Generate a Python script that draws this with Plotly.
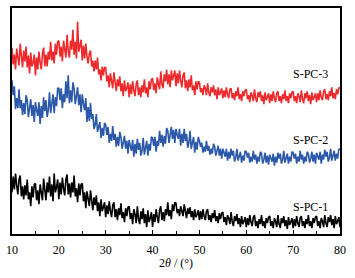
import numpy as np
import plotly.graph_objects as go

# 2θ sampling grid (degrees), 0.25° step
two_theta = np.linspace(10, 80, 281)

# intensities (a.u.), 4 values per degree
s_pc_3 = [
    188, 171, 181, 166, 187, 180, 170, 192, 175, 168, 185, 174, 189, 168, 180, 162,
    183, 169, 173, 181, 160, 178, 166, 184, 173, 166, 182, 188, 169, 181, 169, 184,
    176, 194, 175, 184, 172, 192, 181, 194, 195, 179, 189, 174, 195, 188, 178, 201,
    184, 178, 195, 186, 206, 181, 194, 177, 214, 184, 189, 196, 175, 190, 177, 192,
    179, 172, 182, 185, 169, 175, 164, 175, 166, 178, 161, 166, 155, 169, 160, 168,
    168, 154, 160, 148, 162, 156, 147, 163, 150, 144, 156, 149, 159, 144, 152, 139,
    155, 144, 147, 153, 138, 151, 141, 154, 145, 139, 151, 155, 140, 148, 138, 150,
    143, 156, 142, 148, 138, 154, 146, 156, 157, 145, 152, 142, 158, 153, 146, 164,
    151, 147, 161, 154, 166, 151, 161, 148, 165, 155, 159, 165, 149, 162, 152, 165,
    155, 148, 160, 163, 147, 155, 144, 156, 148, 160, 145, 150, 140, 154, 146, 154,
    153, 143, 147, 140, 150, 147, 140, 152, 143, 139, 148, 143, 150, 140, 146, 136,
    148, 140, 143, 147, 137, 145, 138, 148, 141, 137, 146, 147, 137, 142, 135, 144,
    139, 148, 136, 141, 134, 144, 139, 145, 146, 136, 140, 133, 143, 140, 134, 146,
    137, 133, 143, 138, 144, 134, 140, 131, 143, 135, 138, 142, 132, 141, 134, 144,
    137, 133, 142, 144, 134, 139, 132, 141, 136, 145, 134, 139, 132, 142, 137, 143,
    144, 134, 139, 132, 142, 139, 133, 145, 136, 132, 142, 137, 144, 134, 140, 131,
    143, 135, 138, 142, 133, 142, 135, 145, 138, 135, 144, 146, 136, 141, 135, 144,
    139, 148, 137, 142, 136, 146, 141, 147,
    148,
]

s_pc_2 = [
    155, 140, 149, 126, 137, 127, 146, 127, 135, 120, 132, 121, 140, 135, 118, 126,
    136, 119, 130, 113, 133, 125, 119, 133, 111, 129, 117, 138, 124, 135, 118, 125,
    143, 122, 133, 141, 122, 138, 129, 147, 147, 135, 147, 127, 141, 133, 154, 137,
    160, 132, 145, 133, 153, 147, 131, 138, 148, 130, 141, 123, 141, 131, 125, 137,
    113, 128, 114, 132, 116, 121, 106, 110, 121, 103, 109, 113, 97, 107, 99, 112,
    110, 100, 108, 92, 101, 94, 109, 95, 101, 88, 98, 89, 103, 98, 86, 91,
    99, 86, 94, 81, 95, 89, 84, 95, 78, 91, 81, 96, 85, 92, 79, 84,
    97, 80, 89, 94, 79, 91, 84, 98, 97, 89, 98, 83, 94, 89, 104, 92,
    100, 88, 99, 91, 107, 104, 92, 99, 108, 96, 105, 92, 106, 100, 96, 106,
    89, 101, 92, 106, 94, 101, 87, 92, 104, 86, 94, 98, 82, 93, 85, 98,
    94, 88, 92, 82, 88, 83, 94, 84, 89, 80, 86, 81, 91, 88, 79, 83,
    89, 79, 86, 76, 86, 82, 78, 86, 74, 83, 76, 86, 79, 84, 73, 77,
    86, 74, 80, 83, 72, 79, 74, 84, 83, 77, 82, 72, 78, 73, 84, 75,
    80, 71, 78, 73, 83, 81, 71, 75, 82, 72, 79, 70, 80, 76, 73, 81,
    69, 78, 72, 82, 76, 81, 71, 75, 84, 72, 78, 81, 71, 78, 73, 83,
    82, 76, 81, 71, 78, 73, 84, 75, 80, 71, 78, 73, 83, 81, 72, 76,
    83, 73, 80, 71, 82, 78, 75, 83, 71, 80, 75, 85, 78, 83, 73, 77,
    86, 74, 80, 84, 74, 81, 76, 86,
    85,
]

s_pc_1 = [
    42, 58, 45, 61, 49, 40, 55, 59, 38, 48, 35, 49, 39, 55, 35, 42,
    28, 48, 37, 50, 51, 34, 44, 30, 50, 43, 34, 56, 40, 34, 52, 42,
    58, 38, 50, 33, 61, 42, 47, 55, 35, 52, 40, 57, 46, 39, 55, 60,
    40, 51, 37, 52, 42, 59, 38, 46, 32, 51, 39, 50, 51, 33, 42, 26,
    43, 37, 28, 44, 30, 24, 37, 29, 39, 23, 32, 18, 35, 23, 27, 32,
    17, 29, 20, 33, 23, 17, 29, 32, 17, 25, 14, 26, 19, 31, 16, 22,
    12, 26, 18, 27, 28, 15, 21, 10, 25, 20, 11, 28, 15, 10, 23, 15,
    26, 11, 20, 7, 24, 12, 16, 22, 7, 20, 12, 25, 17, 11, 24, 28,
    14, 22, 13, 25, 19, 32, 18, 24, 15, 30, 23, 32, 31, 21, 25, 18,
    28, 24, 18, 30, 20, 16, 26, 20, 27, 17, 23, 14, 25, 17, 20, 24,
    14, 23, 15, 25, 18, 14, 23, 25, 14, 19, 12, 21, 16, 24, 13, 18,
    11, 21, 15, 21, 22, 12, 17, 9, 19, 16, 10, 22, 12, 8, 18, 13,
    20, 10, 16, 7, 18, 10, 13, 17, 7, 16, 9, 19, 12, 8, 17, 19,
    8, 13, 6, 15, 10, 19, 8, 13, 6, 16, 11, 17, 18, 8, 13, 6,
    16, 13, 7, 19, 10, 6, 16, 11, 18, 8, 14, 5, 17, 9, 12, 16,
    6, 15, 8, 18, 11, 7, 16, 18, 8, 13, 6, 15, 10, 19, 8, 13,
    6, 16, 11, 17, 18, 8, 13, 6, 16, 13, 7, 19, 11, 7, 17, 12,
    19, 9, 15, 6, 18, 10, 13, 17,
    7,
]

series_names = ["S-PC-3", "S-PC-2", "S-PC-1"]
series_colors = ["#ec2a2c", "#2b58a9", "#000000"]
x_ticks = [10, 20, 30, 40, 50, 60, 70, 80]
x_minor = [15, 25, 35, 45, 55, 65, 75]

fig = go.Figure()
for name, ys, col in zip(series_names, [s_pc_3, s_pc_2, s_pc_1], series_colors):
    fig.add_trace(go.Scatter(x=two_theta[:len(ys)], y=ys, mode="lines", name=name,
                             line=dict(color=col, width=1.6), showlegend=False))

label_pos = {"S-PC-3": 161, "S-PC-2": 95, "S-PC-1": 27}
for name in series_names:
    fig.add_annotation(x=73.8, y=label_pos[name], text=name, showarrow=False,
                       font=dict(family="Liberation Serif", size=12, color="#000"))

fig.update_layout(
    width=355, height=278,
    margin=dict(l=12, r=15, t=6, b=44),
    paper_bgcolor="white", plot_bgcolor="white",
    font=dict(family="Liberation Serif", size=12, color="#000"),
)
fig.update_xaxes(
    range=[10, 80], tickvals=x_ticks, ticktext=[str(v) for v in x_ticks],
    showline=True, linecolor="#000", linewidth=2, mirror=True,
    ticks="inside", ticklen=4, tickwidth=1, tickcolor="#000",
    minor=dict(ticks="inside", ticklen=3, tickvals=x_minor, tickcolor="#000"),
    showgrid=False, zeroline=False,
    ticklabelstandoff=4,
    title=dict(text="2<i>θ</i> / (°)", font=dict(family="Liberation Serif", size=12), standoff=2),
)
fig.update_yaxes(
    range=[0, 228], showline=True, linecolor="#000", linewidth=2, mirror=True,
    showticklabels=False, ticks="", showgrid=False, zeroline=False,
)

fig.write_html("out.html", config={"displayModeBar": False},
               post_script="document.body.style.margin='0';")
